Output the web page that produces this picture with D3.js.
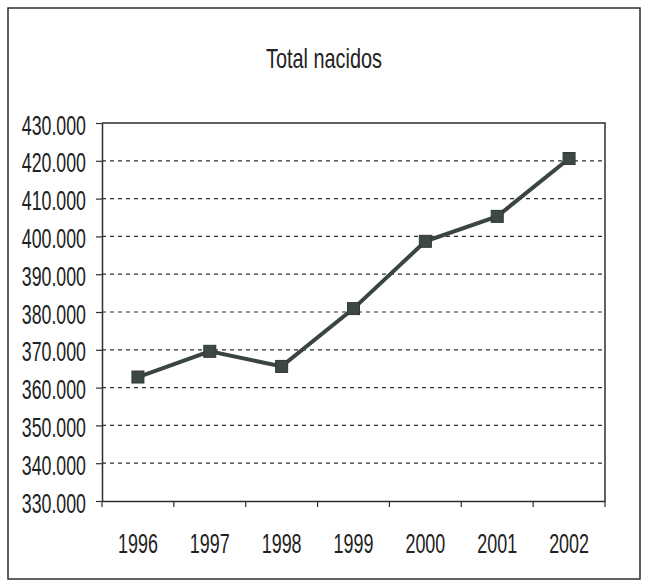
<!DOCTYPE html>
<html>
<head>
<meta charset="utf-8">
<script src="https://cdn.jsdelivr.net/npm/d3@7"></script>
<style>
  body { margin: 0; background: #fff; }
  text { font-family: "Liberation Sans", Arial, sans-serif; fill: #222; }
</style>
</head>
<body>
<svg id="drawing_region"></svg>
<script>
// datos
const years = ['1996', '1997', '1998', '1999', '2000', '2001', '2002'];
const nacidos = [362.8, 369.6, 365.6, 380.9, 398.7, 405.3, 420.6];
const yTicks = [330, 340, 350, 360, 370, 380, 390, 400, 410, 420, 430];
const title = 'Total nacidos';

const width = 648, height = 582;
const margin = {top: 123, right: 43, bottom: 81, left: 102};
const innerW = width - margin.left - margin.right;
const innerH = height - margin.top - margin.bottom;
const ink = '#2b2f2e';

const svg = d3.select('#drawing_region')
    .attr('width', width)
    .attr('height', height);

// marco exterior
svg.append('rect')
    .attr('x', 8).attr('y', 8)
    .attr('width', 632).attr('height', 571)
    .attr('fill', 'none')
    .attr('stroke', ink)
    .attr('stroke-width', 1.5);

// texto estrecho (el original usa una fuente condensada)
function narrow(sel, x, y, sx) {
    sel.attr('x', 0).attr('y', 0).attr('dy', null)
        .attr('transform', `translate(${x},${y}) scale(${sx},1)`);
}

svg.append('text')
    .attr('text-anchor', 'middle')
    .attr('font-size', '28px')
    .text(title)
    .call(narrow, 324, 68, 0.71);

const chart = svg.append('g')
    .attr('transform', `translate(${margin.left}, ${margin.top})`);

const xscale = d3.scaleBand()
    .domain(years)
    .range([0, innerW]);

const yscale = d3.scaleLinear()
    .domain([330, 430])
    .range([innerH, 0]);

// lineas de division
chart.append('g')
    .selectAll('line')
    .data(yTicks.slice(1, -1))
    .join('line')
    .attr('x1', 0).attr('x2', innerW)
    .attr('y1', d => yscale(d)).attr('y2', d => yscale(d))
    .attr('stroke', ink)
    .attr('stroke-width', 1.2)
    .attr('stroke-dasharray', '4,4');

// borde superior y derecho del area
chart.append('path')
    .attr('d', `M0,0H${innerW}V${innerH}`)
    .attr('fill', 'none')
    .attr('stroke', ink)
    .attr('stroke-width', 1.5);

const yaxis = d3.axisLeft(yscale)
    .tickValues(yTicks)
    .tickSize(6)
    .tickSizeOuter(0)
    .tickFormat(d => d3.format('.3f')(d).replace(',', ''));

const ygroup = chart.append('g').call(yaxis);
ygroup.selectAll('text')
    .attr('font-size', '28px')
    .call(narrow, -16, 11, 0.635);

const xaxis = d3.axisBottom(xscale)
    .tickSize(0)
    .tickSizeOuter(0);

const xgroup = chart.append('g')
    .attr('transform', `translate(0, ${innerH})`)
    .call(xaxis);
xgroup.selectAll('text')
    .attr('font-size', '28px')
    .call(narrow, 0, 52, 0.64);

// marcas entre categorias
xgroup.selectAll('.sep')
    .data(years.concat(['']))
    .join('line')
    .attr('class', 'sep')
    .attr('x1', (d, i) => i * xscale.bandwidth())
    .attr('x2', (d, i) => i * xscale.bandwidth())
    .attr('y1', 0).attr('y2', 6)
    .attr('stroke', ink)
    .attr('stroke-width', 1.2);

[ygroup, xgroup].forEach(g => {
    g.attr('font-family', null);
    g.select('.domain').attr('stroke', ink).attr('stroke-width', 1.5);
    g.selectAll('.tick line').attr('stroke', ink).attr('stroke-width', 1.2);
    g.selectAll('text').attr('fill', '#222');
});

const line = d3.line()
    .x((d, i) => xscale(years[i]) + xscale.bandwidth() / 2)
    .y(d => yscale(d));

chart.append('path')
    .datum(nacidos)
    .attr('d', line)
    .attr('fill', 'none')
    .attr('stroke', '#3a4542')
    .attr('stroke-width', 4);

const sz = 12;
chart.selectAll('rect.marker')
    .data(nacidos)
    .join('rect')
    .attr('class', 'marker')
    .attr('x', (d, i) => xscale(years[i]) + xscale.bandwidth() / 2 - sz / 2)
    .attr('y', d => yscale(d) - sz / 2)
    .attr('width', sz).attr('height', sz)
    .attr('fill', '#3d4845')
    .attr('stroke', '#2f3836')
    .attr('stroke-width', 1);
</script>
</body>
</html>
